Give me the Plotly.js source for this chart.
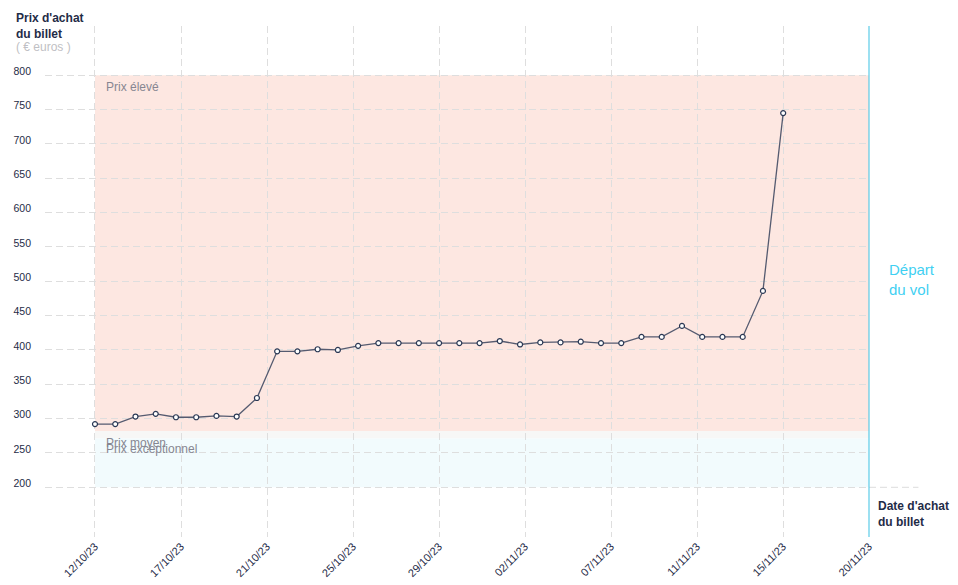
<!DOCTYPE html>
<html>
<head>
<meta charset="utf-8">
<script src="https://cdn.plot.ly/plotly-3.0.1.min.js"></script>
<style>
  html, body { margin: 0; padding: 0; background: #fff; }
  #plot { width: 958px; height: 585px; }
</style>
</head>
<body>
<div id="plot"></div>
<script>
// Prix du billet d'avion selon la date d'achat.
const purchaseDates = [
  "2023-10-12", "2023-10-13", "2023-10-14", "2023-10-15", "2023-10-16",
  "2023-10-17", "2023-10-18", "2023-10-19", "2023-10-20", "2023-10-21",
  "2023-10-22", "2023-10-23", "2023-10-24", "2023-10-25", "2023-10-26",
  "2023-10-27", "2023-10-28", "2023-10-29", "2023-10-30", "2023-10-31",
  "2023-11-01", "2023-11-02", "2023-11-03", "2023-11-04", "2023-11-05",
  "2023-11-06", "2023-11-07", "2023-11-08", "2023-11-09", "2023-11-10",
  "2023-11-11", "2023-11-12", "2023-11-13", "2023-11-14", "2023-11-15",
];
const ticketPrices = [
  292, 292, 303, 307, 302, 302, 304, 303, 330, 398,
  398, 401, 400, 406, 410, 410, 410, 410, 410, 410,
  413, 408, 411, 411, 412, 410, 410, 419, 419, 435,
  419, 419, 419, 486, 745,
];
const tickLabels = [
  "12/10/23", "17/10/23", "21/10/23", "25/10/23", "29/10/23",
  "02/11/23", "07/11/23", "11/11/23", "15/11/23", "20/11/23",
];
const yTicks = [200, 250, 300, 350, 400, 450, 500, 550, 600, 650, 700, 750, 800];

// Zones de prix
const bandNames = ["Prix élevé", "Prix moyen", "Prix exceptionnel"];
const bandLow = [282, 271, 200];
const bandHigh = [800, 282, 271];
const bandColors = ["#fde7e1", "#f7f7f6", "#f2fbfd"];

(function () {
  "use strict";

  const NAVY = "#1f2c47";
  const FONT = "Liberation Sans, Arial, sans-serif";
  const DAY = 86400000;

  const ms = (s) => {
    const [y, m, d] = s.split("-").map(Number);
    return Date.UTC(y, m - 1, d);
  };

  // The axis runs from the first purchase to the departure line; the
  // ticks are spread evenly along it (as in the original graphic).
  const t0 = ms(purchaseDates[0]);
  const tEnd = t0 + 38.24 * DAY;
  const tickVals = tickLabels.map((_, i) => t0 + (tEnd - t0) * i / (tickLabels.length - 1));

  const shapes = bandNames.map((_, i) => ({
    type: "rect", layer: "below",
    xref: "x", yref: "y",
    x0: t0, x1: tEnd, y0: bandLow[i], y1: bandHigh[i],
    fillcolor: bandColors[i], line: { width: 0 },
  }));
  // departure marker
  shapes.push({
    type: "line", xref: "paper", yref: "paper",
    x0: 1, x1: 1, y0: 0, y1: 1,
    line: { color: "#4cc6e6", width: 1.1 },
  });
  // the 200 line runs on past the departure line
  shapes.push({
    type: "line", xref: "paper", yref: "y", layer: "below",
    x0: 1, x1: 1.06, y0: 200, y1: 200,
    line: { color: "#dcdcdc", width: 1, dash: "7px,4px" },
  });

  const bandShift = [-3, -3, -1];
  const annotations = bandNames.map((name, i) => ({
    xref: "paper", yref: "y", x: 0.072, y: bandHigh[i],
    xanchor: "left", yanchor: "top", yshift: bandShift[i],
    text: name, showarrow: false,
    font: { family: FONT, size: 12, color: "#868691" },
  }));
  annotations.push(
    {
      xref: "paper", yref: "paper", x: -0.038, y: 1.0,
      xanchor: "left", yanchor: "middle", align: "left",
      text: "<b>Prix d'achat<br>du billet</b>", showarrow: false,
      font: { family: FONT, size: 12, color: NAVY },
    },
    {
      xref: "paper", yref: "paper", x: -0.038, y: 0.959,
      xanchor: "left", yanchor: "middle", align: "left",
      text: "( € euros )", showarrow: false,
      font: { family: FONT, size: 12, color: "#bfbfc4" },
    },
    {
      xref: "paper", yref: "paper", x: 1.022, y: 0.503,
      xanchor: "left", yanchor: "middle", align: "left",
      text: "Départ<br>du vol", showarrow: false,
      font: { family: FONT, size: 15, color: "#3fd0f2" },
    },
    {
      xref: "paper", yref: "paper", x: 1.008, y: 0.045,
      xanchor: "left", yanchor: "middle", align: "left",
      text: "<b>Date d'achat<br>du billet</b>", showarrow: false,
      font: { family: FONT, size: 12, color: NAVY },
    }
  );

  const trace = {
    type: "scatter", mode: "lines+markers",
    x: purchaseDates.map(ms), y: ticketPrices,
    line: { color: "#555b70", width: 1.3 },
    marker: { color: "#ffffff", size: 5, line: { color: "#2a3854", width: 1.2 } },
    hoverinfo: "x+y",
  };

  const layout = {
    width: 958, height: 585,
    margin: { l: 45, r: 89, t: 26, b: 48 },
    paper_bgcolor: "#fff", plot_bgcolor: "#fff",
    showlegend: false,
    font: { family: FONT, color: NAVY },
    xaxis: {
      type: "date",
      range: [t0 - 2.47 * DAY, tEnd],
      tickmode: "array", tickvals: tickVals, ticktext: tickLabels,
      tickangle: -45, tickfont: { size: 11, color: NAVY },
      showgrid: true, gridcolor: "#dedede", griddash: "7px,4px", gridwidth: 1,
      zeroline: false, showline: false, ticks: "", automargin: false,
    },
    yaxis: {
      range: [127.6, 871.8],
      tickmode: "array", tickvals: yTicks,
      tickfont: { size: 10.5, color: NAVY },
      ticklabelshift: -4, ticklabelstandoff: 13,
      showgrid: true, gridcolor: "#dedede", griddash: "7px,4px", gridwidth: 1,
      zeroline: false, showline: false, ticks: "", automargin: false,
    },
    shapes, annotations,
  };

  Plotly.newPlot("plot", [trace], layout, { displayModeBar: false, staticPlot: true });
})();
</script>
</body>
</html>
